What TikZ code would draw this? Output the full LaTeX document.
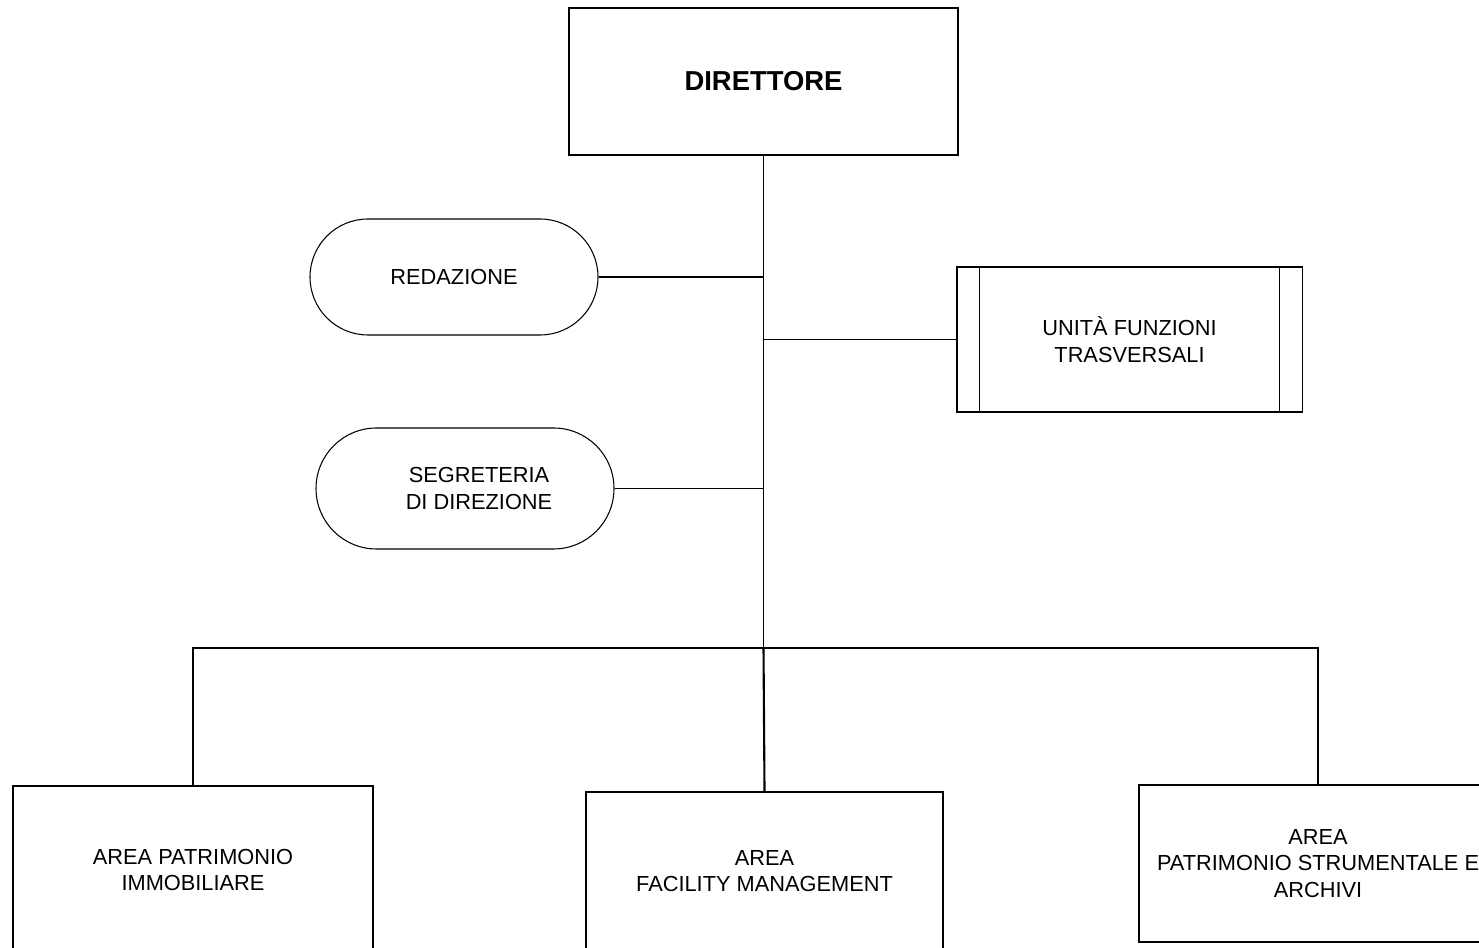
\documentclass[tikz,border=0pt]{standalone}
\usepackage{fontspec}
\setmainfont{Liberation Sans}
\usetikzlibrary{positioning,shapes.misc}

\begin{document}
\begin{tikzpicture}[font=\fontsize{6.2}{7.6}\selectfont,
  b/.style={draw,line width=0.3pt,align=center,inner sep=0pt},
  o/.style={draw,rounded rectangle,line width=0.3pt,align=center,inner sep=0pt,minimum height=1.18cm},
  l/.style={line width=0.3pt},
  t/.style={line width=0.6pt}]
\useasboundingbox (0,0) rectangle (14.79,-9.48);
\node[b,minimum width=3.89cm,minimum height=1.47cm,font=\fontsize{7.8}{9}\selectfont\bfseries] (dir) at (7.635,-0.815) {DIRETTORE};
\node[o,minimum width=2.88cm,minimum height=1.16cm] (red) at (4.54,-2.77) {REDAZIONE};
\node[o,minimum width=2.98cm,minimum height=1.21cm] (seg) at (4.65,-4.885) {\hspace*{0.28cm}SEGRETERIA\\\hspace*{0.28cm}DI DIREZIONE};
\node[b,minimum width=3.45cm,minimum height=1.45cm] (uft) at (11.295,-3.395) {UNITÀ FUNZIONI\\TRASVERSALI};
\draw[l] ([xshift=0.23cm]uft.north west) -- ([xshift=0.23cm]uft.south west);
\draw[l] ([xshift=-0.23cm]uft.north east) -- ([xshift=-0.23cm]uft.south east);
% aree
\node[b,minimum width=3.6cm,minimum height=1.68cm] (api) at (1.93,-8.70) {AREA PATRIMONIO\\IMMOBILIARE};
\node[b,minimum width=3.57cm,minimum height=1.58cm] (afm) at (7.645,-8.71) {AREA\\FACILITY MANAGEMENT};
\node[b,minimum width=3.58cm,minimum height=1.57cm] (aps) at (13.18,-8.635) {AREA\\PATRIMONIO STRUMENTALE E\\ARCHIVI};
% collegamenti
\coordinate (hub) at (dir.south |- 0,-6.48);
\draw[l] (dir.south) -- (hub);
\draw[l] (red.east) -- (red.east -| dir.south);
\draw[l] (uft.west) -- (uft.west -| dir.south);
\draw[l] (seg.east) -- (seg.east -| dir.south);
\draw[l] (hub) -| (api.north);
\draw[t] (hub) -| (aps.north);
\draw[t] (hub) -- (afm.north);
\end{tikzpicture}
\end{document}
